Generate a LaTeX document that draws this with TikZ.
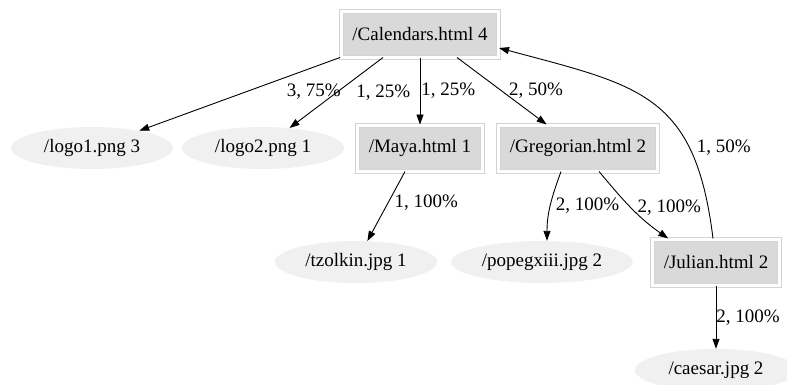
\documentclass[tikz,border=0pt]{standalone}
\usepackage{fontspec}
\setmainfont{Liberation Serif}
\usetikzlibrary{positioning,shapes.geometric,arrows.meta}

\definecolor{pagefill}{HTML}{D9D9D9}
\definecolor{pageline}{HTML}{D4D4D4}
\definecolor{filefill}{HTML}{F0F0F0}

\tikzset{
  page/.style={rectangle, fill=pagefill, draw=pageline, line width=1pt,
    double=white, double distance=3pt, inner xsep=11pt, minimum height=46pt},
  file/.style={ellipse, fill=filefill, inner xsep=4pt, minimum width=162pt,
    minimum height=42pt},
  hits/.style={inner sep=1pt},
  link/.style={->, line width=0.9pt},
}

\begin{document}
\begin{tikzpicture}[x=1pt, y=1pt, on grid, >={Triangle[length=10pt,width=7pt]},
  font=\fontsize{19}{22}\selectfont]
\useasboundingbox (0,0) rectangle (787,-384);

\node[page] (cal) at (420,-34) {/Calendars.html 4};
\node[file, below left=114pt and 328pt of cal] (logo1) {/logo1.png 3};
\node[file, below left=114pt and 157pt of cal] (logo2) {/logo2.png 1};
\node[page, below=114pt of cal] (maya) {/Maya.html 1};
\node[page, below right=114pt and 158pt of cal] (greg) {/Gregorian.html 2};
\node[file, below left=114pt and 64pt of maya] (tzolkin) {/tzolkin.jpg 1};
\node[file, below left=114pt and 36pt of greg] (pope) {/popegxiii.jpg 2};
\node[page, below right=114pt and 138pt of greg] (julian) {/Julian.html 2};
\node[file, below=108pt of julian] (caesar) {/caesar.jpg 2};

\draw[link] ([xshift=-80pt]cal.south) -- node[hits, pos=.13, anchor=north, yshift=-15pt] (l1) {3, 75\%} (logo1);
\draw[link] ([xshift=-37pt]cal.south) -- node[hits, pos=.3, anchor=north west, yshift=-5pt] (l2) {1, 25\%} (logo2);
\draw[link] (cal) -- node[hits, anchor=west] (l3) {1, 25\%} (maya);
\draw[link] ([xshift=37pt]cal.south) -- node[hits, pos=.5, anchor=west, xshift=6pt] (l4) {2, 50\%} (greg);
\draw[link] ([xshift=-15pt]maya.south) -- node[hits, pos=.45, anchor=west, xshift=5pt] (l5) {1, 100\%} (tzolkin);
\draw[link] ([xshift=-17pt]greg.south) to[out=-110, in=90] node[hits, anchor=west, xshift=4pt] (l6) {2, 100\%} ([xshift=5pt]pope.north);
\draw[link] ([xshift=21pt]greg.south) to[out=-50, in=145] node[hits, anchor=west, xshift=5pt] (l7) {2, 100\%} ([xshift=16pt]julian.north west);
\draw[link] ([xshift=-3pt]julian.north) to[out=97, in=-15, looseness=1.3] node[hits, pos=.27, anchor=west, xshift=6pt] (l8) {1, 50\%} ([yshift=-14pt]cal.east);
\draw[link] (julian) -- node[hits, anchor=west, inner sep=0pt] (l9) {2, 100\%} (caesar);

\end{tikzpicture}
\end{document}
